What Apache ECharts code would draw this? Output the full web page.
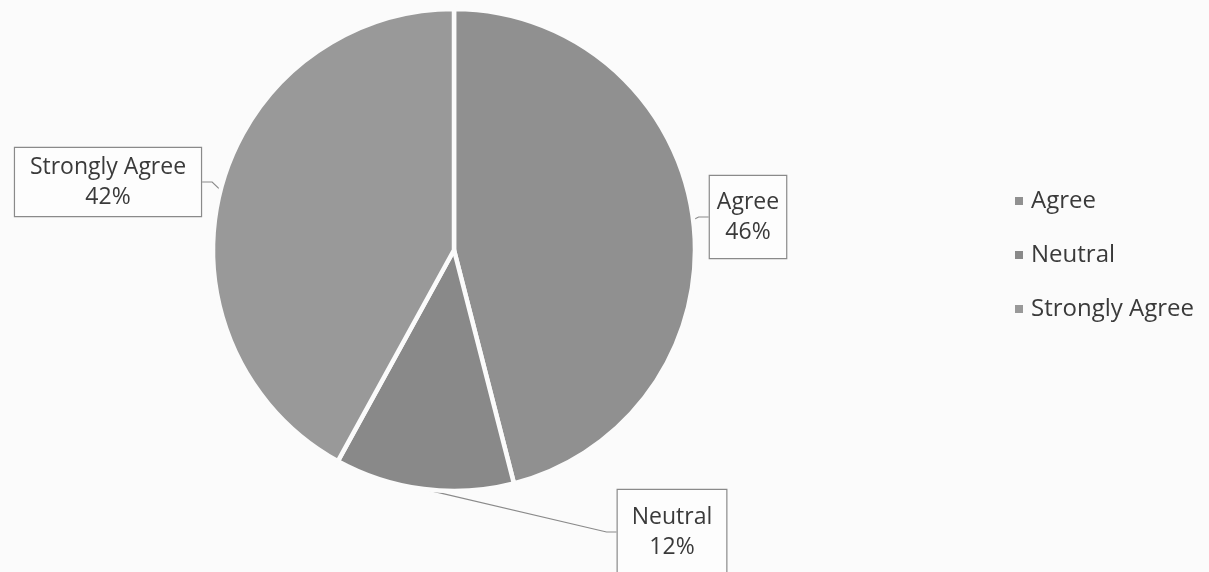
<!DOCTYPE html>
<html>
<head>
<meta charset="utf-8">
<script src="https://cdn.jsdelivr.net/npm/echarts@6/dist/echarts.min.js"></script>
<style>html,body{margin:0;padding:0;background:#fbfbfb;}#c{width:1209px;height:572px;}</style>
</head>
<body>
<div id="c"></div>
<script>
var categories = ['Agree', 'Neutral', 'Strongly Agree'];
var values = [46, 12, 42];

var colors = ['#909090', '#898989', '#999999'];
var labelCenters = [[748, 217], [672, 532], [108, 182]];
var labelPads = [[11, 7], [12, 14], [4, 14]];

var chart = echarts.init(document.getElementById('c'));
var FONT = '"Open Sans", "Noto Sans", sans-serif';
chart.setOption({
  backgroundColor: '#fbfbfb',
  animation: false,
  legend: {
    orient: 'vertical',
    left: 1008,
    top: 184,
    itemWidth: 10,
    itemHeight: 10,
    itemGap: 30,
    icon: 'rect',
    textStyle: { fontFamily: FONT, fontSize: 24, color: '#3a3a3a', padding: [0, 0, 0, 2] },
    data: categories
  },
  series: [{
    type: 'pie',
    center: [454, 250],
    radius: 241,
    startAngle: 90,
    clockwise: true,
    itemStyle: { borderColor: '#fbfbfb', borderWidth: 4.5 },
    label: {
      show: true,
      position: 'outside',
      formatter: '{b}\n{d}%',
      fontFamily: FONT,
      fontSize: 23,
      lineHeight: 30,
      color: '#3a3a3a',
      align: 'center',
      backgroundColor: '#fdfdfd',
      borderColor: '#8a8a8a',
      borderWidth: 1.2
    },
    labelLine: { show: true, lineStyle: { color: '#8a8a8a', width: 1.2 }, length: 10, length2: 10 },
    labelLayout: function (p) {
      var c = labelCenters[p.dataIndex];
      return { x: c[0], y: c[1], align: 'center', verticalAlign: 'middle' };
    },
    data: categories.map(function (n, i) {
      return {
        name: n, value: values[i],
        itemStyle: { color: colors[i] },
        label: { padding: labelPads[i] }
      };
    })
  }]
});
</script>
</body>
</html>
